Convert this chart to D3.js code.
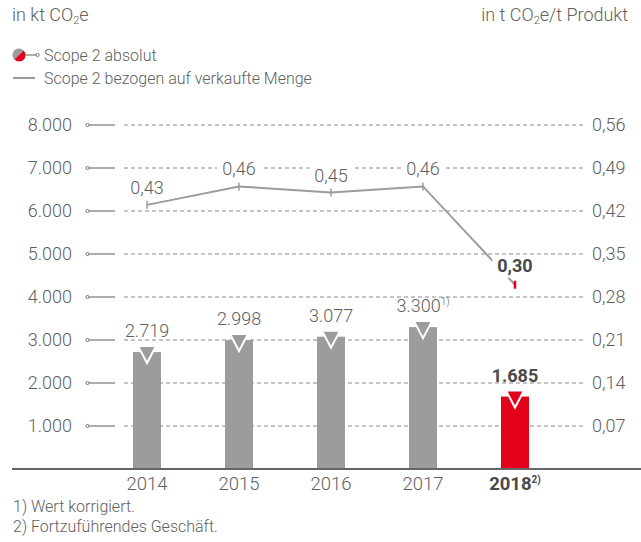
<!DOCTYPE html>
<html>
<head>
<meta charset="utf-8">
<script src="https://cdn.jsdelivr.net/npm/d3@7"></script>
<style>
  body { margin: 0; background: #fff; }
  svg text { font-family: Roboto, "Helvetica Neue", Arial, sans-serif; font-weight: 300; fill: #606060; }
</style>
</head>
<body>
<div id="chart"></div>
<script>
(function(){

    var width = 641;
    var height = 542;

    // data
    var years = ['2014', '2015', '2016', '2017', '2018'];
    var absolute = [2719, 2998, 3077, 3300, 1685];          // kt CO2e
    var intensity = [0.43, 0.46, 0.45, 0.46, 0.30];         // t CO2e / t Produkt
    var barLabels = ['2.719', '2.998', '3.077', '3.300', '1.685'];
    var barNotes = ['', '', '', '1)', ''];
    var lineLabels = ['0,43', '0,46', '0,45', '0,46', '0,30'];
    var yearNotes = ['', '', '', '', '2)'];
    var leftTicks = [1000, 2000, 3000, 4000, 5000, 6000, 7000, 8000];
    var rightTicks = [0.07, 0.14, 0.21, 0.28, 0.35, 0.42, 0.49, 0.56];
    var footnotes = ['1) Wert korrigiert.', '2) Fortzuführendes Geschäft.'];

    var grey = '#9c9c9c';
    var red = '#e2001a';
    var dark = '#4a4a4a';

    var svg = d3.select('#chart')
        .append('svg')
            .attr('width', width)
            .attr('height', height);

    var x = d3.scalePoint()
        .domain(years)
        .range([147, 515]);

    var y = d3.scaleLinear()
        .domain([0, 8000])
        .range([469, 125]);

    var y2 = d3.scaleLinear()
        .domain([0, 0.56])
        .range([469, 125]);

    var barWidth = 28;
    var isLast = function(i) { return i === years.length - 1; };

    // units
    var unitL = svg.append('text').attr('x', 12).attr('y', 21).style('font-size', '18px');
    unitL.append('tspan').text('in kt CO');
    unitL.append('tspan').attr('dy', 3).style('font-size', '11px').text('2');
    unitL.append('tspan').attr('dy', -3).text('e');

    var unitR = svg.append('text').attr('x', 628).attr('y', 21)
        .attr('text-anchor', 'end').style('font-size', '18px');
    unitR.append('tspan').text('in t CO');
    unitR.append('tspan').attr('dy', 3).style('font-size', '11px').text('2');
    unitR.append('tspan').attr('dy', -3).text('e/t Produkt');

    // legend
    var legend = svg.append('g').attr('class', 'legend');
    legend.append('path')
        .attr('d', d3.arc()({innerRadius: 0, outerRadius: 6.5, startAngle: -Math.PI * 3 / 4, endAngle: Math.PI / 4}))
        .attr('transform', 'translate(19,55)')
        .attr('fill', grey);
    legend.append('path')
        .attr('d', d3.arc()({innerRadius: 0, outerRadius: 6.5, startAngle: Math.PI / 4, endAngle: Math.PI * 5 / 4}))
        .attr('transform', 'translate(19,55)')
        .attr('fill', red);
    legend.append('line')
        .attr('x1', 25).attr('x2', 36).attr('y1', 55).attr('y2', 55)
        .attr('stroke', '#777').attr('stroke-width', 1.2);
    legend.append('circle')
        .attr('cx', 37.5).attr('cy', 55).attr('r', 1.6)
        .attr('fill', '#fff').attr('stroke', '#777').attr('stroke-width', 1);
    legend.append('text').attr('x', 44).attr('y', 61)
        .style('font-size', '16px').text('Scope 2 absolut');
    legend.append('line')
        .attr('x1', 13).attr('x2', 35).attr('y1', 78).attr('y2', 78)
        .attr('stroke', grey).attr('stroke-width', 2);
    legend.append('text').attr('x', 44).attr('y', 84)
        .style('font-size', '16px').text('Scope 2 bezogen auf verkaufte Menge');

    // grid + left axis
    var grid = svg.append('g').attr('class', 'grid');
    grid.selectAll('line.dash')
        .data(leftTicks)
        .enter().append('line')
            .attr('class', 'dash')
            .attr('x1', 124).attr('x2', 585)
            .attr('y1', function(d) { return y(d); })
            .attr('y2', function(d) { return y(d); })
            .attr('stroke', '#8a8a8a')
            .attr('stroke-width', 1)
            .attr('stroke-dasharray', '4,3');
    grid.selectAll('line.solid')
        .data(leftTicks)
        .enter().append('line')
            .attr('class', 'solid')
            .attr('x1', 89).attr('x2', 115)
            .attr('y1', function(d) { return y(d); })
            .attr('y2', function(d) { return y(d); })
            .attr('stroke', '#777')
            .attr('stroke-width', 1.2);
    grid.selectAll('circle')
        .data(leftTicks)
        .enter().append('circle')
            .attr('cx', 87.5)
            .attr('cy', function(d) { return y(d); })
            .attr('r', 1.6)
            .attr('fill', '#fff')
            .attr('stroke', '#777')
            .attr('stroke-width', 1);
    grid.selectAll('text.left')
        .data(leftTicks)
        .enter().append('text')
            .attr('class', 'left')
            .attr('x', 72)
            .attr('y', function(d) { return y(d); })
            .attr('dy', '0.36em')
            .attr('text-anchor', 'end')
            .style('font-size', '18px')
            .text(function(d) { return d3.format(',')(d).replace(/,/g, '.'); });

    // right axis
    svg.append('g').selectAll('text')
        .data(rightTicks)
        .enter().append('text')
            .attr('x', 592)
            .attr('y', function(d) { return y2(d); })
            .attr('dy', '0.36em')
            .style('font-size', '18px')
            .text(function(d) { return d3.format('.2f')(d).replace('.', ','); });

    // bars
    var bars = svg.append('g').attr('class', 'bars');
    bars.selectAll('rect')
        .data(absolute)
        .enter().append('rect')
            .attr('x', function(d, i) { return x(years[i]) - barWidth / 2; })
            .attr('y', function(d) { return y(d); })
            .attr('width', barWidth)
            .attr('height', function(d) { return y(0) - y(d); })
            .attr('fill', function(d, i) { return isLast(i) ? red : grey; });

    bars.selectAll('path')
        .data(absolute)
        .enter().append('path')
            .attr('d', 'M-9,-6L9,-6L0,11Z')
            .attr('transform', function(d, i) { return 'translate(' + x(years[i]) + ',' + y(d) + ')'; })
            .attr('fill', function(d, i) { return isLast(i) ? red : grey; })
            .attr('stroke', '#fff')
            .attr('stroke-width', 2)
            .attr('stroke-linejoin', 'miter');

    var barText = bars.selectAll('text')
        .data(absolute)
        .enter().append('text')
            .attr('x', function(d, i) { return x(years[i]); })
            .attr('y', function(d) { return y(d) - 15; })
            .attr('text-anchor', 'middle')
            .style('font-size', '18px')
            .style('font-weight', function(d, i) { return isLast(i) ? 700 : 300; })
            .style('fill', function(d, i) { return isLast(i) ? dark : null; });
    barText.append('tspan').text(function(d, i) { return barLabels[i]; });
    barText.append('tspan')
        .attr('dy', -7)
        .style('font-size', '10px')
        .text(function(d, i) { return barNotes[i]; });

    // baseline
    svg.append('line')
        .attr('x1', 12).attr('x2', width)
        .attr('y1', y(0)).attr('y2', y(0))
        .attr('stroke', '#666')
        .attr('stroke-width', 2);

    // x labels
    var xText = svg.append('g').selectAll('text')
        .data(years)
        .enter().append('text')
            .attr('x', function(d) { return x(d); })
            .attr('y', 490)
            .attr('text-anchor', 'middle')
            .style('font-size', '18.5px')
            .style('font-weight', function(d, i) { return isLast(i) ? 700 : 300; })
            .style('fill', function(d, i) { return isLast(i) ? dark : null; });
    xText.append('tspan').text(function(d) { return d; });
    xText.append('tspan')
        .attr('dy', -7)
        .style('font-size', '10px')
        .text(function(d, i) { return yearNotes[i]; });

    // intensity line
    var linePts = intensity.map(function(d, i) { return [x(years[i]), y2(d)]; });
    var lineG = svg.append('g').attr('class', 'line');
    lineG.append('path')
        .attr('d', d3.line()(linePts))
        .attr('fill', 'none')
        .attr('stroke', grey)
        .attr('stroke-width', 2);
    lineG.selectAll('line')
        .data(intensity)
        .enter().append('line')
            .attr('x1', function(d, i) { return x(years[i]); })
            .attr('x2', function(d, i) { return x(years[i]); })
            .attr('y1', function(d) { return y2(d) - 4; })
            .attr('y2', function(d) { return y2(d) + 4; })
            .attr('stroke', function(d, i) { return isLast(i) ? red : grey; })
            .attr('stroke-width', function(d, i) { return isLast(i) ? 2.5 : 1.5; });

    var labels = lineG.selectAll('g.lab')
        .data(intensity)
        .enter().append('g')
            .attr('class', 'lab');
    labels.append('text')
        .attr('x', function(d, i) { return x(years[i]); })
        .attr('y', function(d, i) { return y2(d) - (isLast(i) ? 13 : 11); })
        .attr('text-anchor', 'middle')
        .style('font-size', '18px')
        .style('font-weight', function(d, i) { return isLast(i) ? 700 : 300; })
        .style('fill', function(d, i) { return isLast(i) ? dark : null; })
        .text(function(d, i) { return lineLabels[i]; });
    labels.each(function() {
        var g = d3.select(this);
        var b = g.select('text').node().getBBox();
        g.insert('rect', 'text')
            .attr('x', b.x - 5)
            .attr('y', b.y + 1)
            .attr('width', b.width + 10)
            .attr('height', b.height + 1)
            .attr('fill', '#fff');
    });

    // footnotes
    svg.append('g').selectAll('text')
        .data(footnotes)
        .enter().append('text')
            .attr('x', 13)
            .attr('y', function(d, i) { return 512 + i * 20; })
            .style('font-size', '16px')
            .text(function(d) { return d; });
})();
</script>
</body>
</html>
